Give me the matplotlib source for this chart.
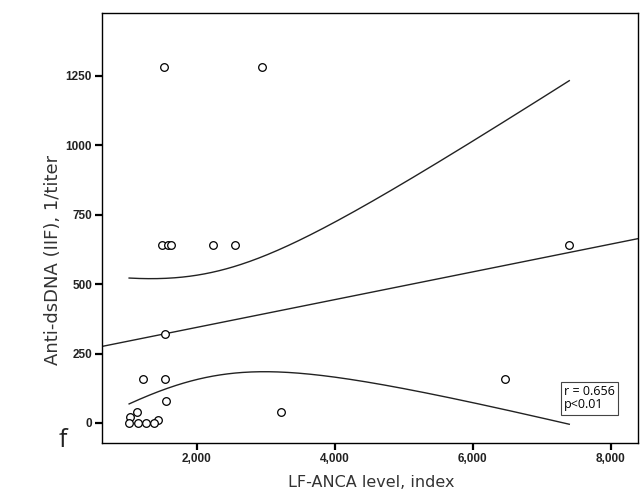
import numpy as np
import matplotlib
matplotlib.use("Agg")
import matplotlib.pyplot as plt
from matplotlib.ticker import FixedLocator, FuncFormatter

# LF-ANCA level (index) and anti-dsDNA titer (IIF, 1/titer)
lf_anca = [1.53, 2.95, 1.49, 1.59, 1.62, 2.24, 2.55, 7.40, 1.54, 1.22, 1.54,
           6.47, 1.56, 1.13, 3.22, 1.03, 1.44, 1.02, 1.15, 1.26, 1.38]
anti_dsdna = [1280, 1280, 640, 640, 640, 640, 640, 640, 320, 160, 160,
              160, 80, 40, 40, 20, 10, 0, 0, 0, 0]
x_ticks = [2, 4, 6, 8]
y_ticks = [0, 250, 500, 750, 1000, 1250]
stats_text = "r = 0.656\np<0.01"

x = np.array(lf_anca, dtype=float)
y = np.array(anti_dsdna, dtype=float)

plt.rcParams["font.family"] = ["Liberation Sans", "DejaVu Sans"]

fig = plt.figure(figsize=(6.41, 4.93), dpi=100)
ax = fig.add_axes([0.1587, 0.1014, 0.8366, 0.8722])

xlim = (0.623, 8.396)
ylim = (-72, 1475)

# Least-squares fit with 95% confidence band for the mean
n = len(x)
slope, intercept = np.polyfit(x, y, 1)
xbar = x.mean()
sxx = np.sum((x - xbar) ** 2)
resid = y - (intercept + slope * x)
s = np.sqrt(np.sum(resid ** 2) / (n - 2))
t_crit = 2.093  # t(0.975, df=19)

xl = np.linspace(xlim[0], xlim[1], 200)
ax.plot(xl, intercept + slope * xl, color="#222222", lw=1.0, zorder=2)

xb = np.linspace(x.min(), x.max(), 300)
fit_b = intercept + slope * xb
half = t_crit * s * np.sqrt(1.0 / n + (xb - xbar) ** 2 / sxx)
ax.plot(xb, fit_b + half, color="#222222", lw=1.0, zorder=2)
ax.plot(xb, fit_b - half, color="#222222", lw=1.0, zorder=2)

ax.plot(x, y, linestyle="none", marker="o", markersize=5.5,
        markerfacecolor="white", markeredgecolor="black",
        markeredgewidth=0.9, zorder=3)

ax.set_xlim(*xlim)
ax.set_ylim(*ylim)
ax.xaxis.set_major_locator(FixedLocator(x_ticks))
ax.yaxis.set_major_locator(FixedLocator(y_ticks))
ax.xaxis.set_major_formatter(FuncFormatter(lambda v, p: f"{v:.3f}".replace(".", ",")))
ax.yaxis.set_major_formatter(FuncFormatter(lambda v, p: f"{int(v)}"))

ax.tick_params(axis="both", direction="out", length=5, width=1.6,
               labelsize=8.5, pad=2, colors="black")
for lab in ax.get_xticklabels() + ax.get_yticklabels():
    lab.set_fontweight("bold")
    lab.set_color("#222222")

for sp in ax.spines.values():
    sp.set_linewidth(1.0)
    sp.set_color("black")

ax.set_xlabel("LF-ANCA level, index", fontsize=11.5, color="#333333",
              family=["DejaVu Sans"])
ax.xaxis.set_label_coords(0.502, -0.075)
ax.set_ylabel("Anti-dsDNA (IIF), 1/titer", fontsize=13, color="#333333",
              family=["DejaVu Sans"])
ax.yaxis.set_label_coords(-0.074, 0.426)

ax.text(0.862, 0.135, stats_text, transform=ax.transAxes, fontsize=9,
        family=["Open Sans", "DejaVu Sans"], va="top", ha="left",
        linespacing=1.05,
        bbox=dict(boxstyle="square,pad=0.25", facecolor="white",
                  edgecolor="#444444", linewidth=0.8))

fig.text(0.098, 0.107, "f", fontsize=18, family=["Open Sans", "DejaVu Sans"],
         ha="center", va="center", color="#222222")

fig.savefig("out.png", dpi=100)
